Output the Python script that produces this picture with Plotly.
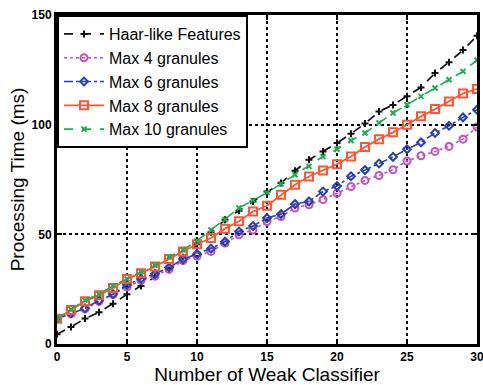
import plotly.graph_objects as go

x = list(range(31))
haar = [4.5, 7.8, 11.6, 14.5, 18.4, 22.7, 26.5, 30.7, 34.6, 39.6, 45.5, 51, 56.6, 60.8, 65,
        69.5, 73.4, 79, 84, 87.8, 91.6, 95.9, 100.5, 106, 109, 113, 117, 123.5, 128.5, 134, 140.5]
max4 = [11.5, 13.8, 16, 19.5, 22.5, 26, 29, 31, 34, 38, 40, 42.2, 46, 49.8, 52,
        55.8, 58.1, 62, 63.5, 65.8, 68.7, 71.8, 74.6, 76.8, 79.5, 83.4, 85.8, 87.8, 90.1, 93.4, 98.9]
max6 = [11.5, 14, 16.3, 19.8, 22.8, 26.9, 29.7, 32, 34.9, 38.7, 41, 43.5, 46.7, 51.3, 53.8,
        57.4, 59.2, 63.8, 65, 69.5, 72, 76.5, 79.3, 82.3, 85.3, 88.8, 91.9, 96.2, 99.5, 103.3, 106.8]
max8 = [11.5, 15.5, 19.5, 22.2, 25.5, 29.6, 32.3, 35.3, 38.8, 42.2, 45.5, 48.3, 52.6, 56, 60.4,
        63, 68, 72.6, 76.4, 79.1, 82, 85.5, 89.8, 93.4, 96.5, 100, 103.8, 107.1, 110.6, 114.2, 116.3]
max10 = [11.5, 15.8, 20, 22.7, 26.5, 29.7, 32.9, 35.9, 39.6, 42.9, 47, 52, 56.8, 62, 65.5,
         69, 73, 77.2, 81, 85.5, 88.8, 92.8, 96.2, 100.8, 105.3, 109.1, 112.9, 116.7, 120.5, 124.3, 129.4]

names = ["Haar-like Features", "Max 4 granules", "Max 6 granules", "Max 8 granules", "Max 10 granules"]
x_ticks = [0, 5, 10, 15, 20, 25, 30]
y_ticks = [0, 50, 100, 150]

styles = [
    dict(color="#111111", dash="dash", symbol="cross-thin-open", size=5, width=1.7),
    dict(color="#c34fc0", dash="dot", symbol="circle-open", size=7, width=1.6),
    dict(color="#2540b5", dash="dashdot", symbol="diamond-open", size=6, width=1.6),
    dict(color="#ff5533", dash="solid", symbol="square-open", size=8, width=1.8),
    dict(color="#15b050", dash="dash", symbol="x-thin-open", size=5, width=1.6),
]

fig = go.Figure()
for name, ys, st in zip(names, [haar, max4, max6, max8, max10], styles):
    fig.add_trace(go.Scatter(
        x=x, y=ys, name=name, mode="lines+markers",
        line=dict(color=st["color"], dash=st["dash"], width=st["width"]),
        marker=dict(symbol=st["symbol"], size=st["size"], color=st["color"],
                    line=dict(color=st["color"], width=2)),
    ))

axis_common = dict(
    showline=True, linecolor="black", linewidth=3, mirror="ticks",
    ticks="inside", ticklen=5, tickwidth=2, tickcolor="black",
    showgrid=True, gridcolor="black", gridwidth=1.5, griddash="dot",
    zeroline=False, automargin=False, ticklabeloverflow="allow",
    tickfont=dict(family="Liberation Sans, Arial", size=12, color="black", weight="bold"),
)

title_font = dict(family="Liberation Sans, Arial", size=19, color="black")
fig.update_xaxes(range=[0, 30], tickvals=x_ticks, **axis_common,
                 title=dict(text="Number of Weak Classifier", standoff=0, font=title_font))
fig.update_yaxes(range=[0, 150], tickvals=y_ticks, **axis_common,
                 title=dict(text="Processing Time (ms)", standoff=2, font=title_font))

fig.update_layout(
    width=483, height=385,
    margin=dict(l=57, r=6, t=15, b=41),
    paper_bgcolor="white", plot_bgcolor="white",
    showlegend=True,
    legend=dict(x=0, y=1, xanchor="left", yanchor="top",
                bgcolor="white", bordercolor="black", borderwidth=2,
                font=dict(family="Liberation Sans, Arial", size=16, color="black"),
                itemwidth=40, tracegroupgap=0),
)

fig.write_html("out.html")
